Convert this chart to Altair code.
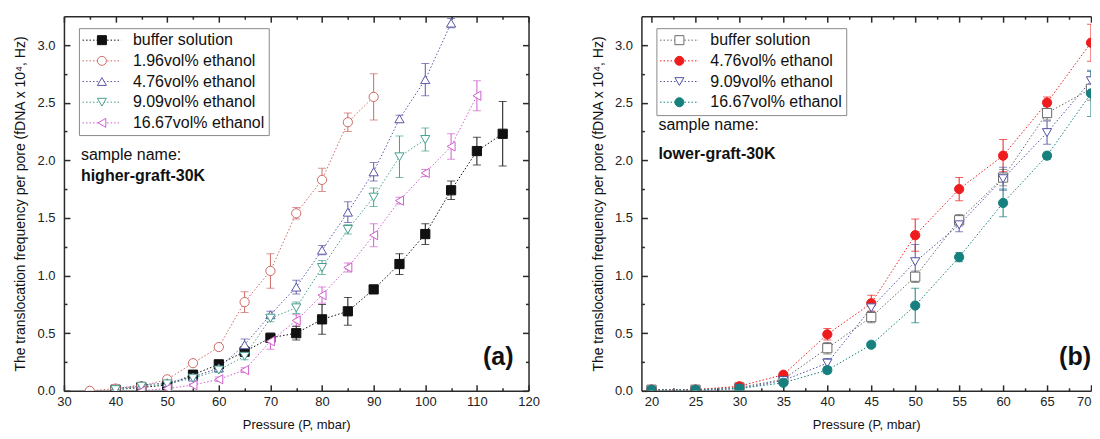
import altair as alt
import pandas as pd

FONT = "Liberation Sans"
AXC = "#2a2a2a"

# ---------------- panel (a): higher-graft-30K ----------------
A_NAMES = ["buffer solution", "1.96vol% ethanol", "4.76vol% ethanol",
           "9.09vol% ethanol", "16.67vol% ethanol"]
A_COLORS = ["#111111", "#cc6a66", "#5a58a8", "#45a08e", "#cf5fcf"]
A_FILLS = ["#111111", "#ffffff", "#ffffff", "#ffffff", "#ffffff"]
A_SHAPES = ["square", "circle", "triangle-up", "triangle-down", "triangle-left"]

A_BUF_P = [40, 45, 50, 55, 60, 65, 70, 75, 80, 85, 90, 95, 100, 105, 110, 115]
A_BUF_F = [0.01, 0.03, 0.05, 0.14, 0.23, 0.34, 0.46, 0.50, 0.62, 0.69, 0.88, 1.10, 1.36, 1.74, 2.08, 2.23]
A_BUF_E = [0.01, 0.01, 0.02, 0.02, 0.03, 0.04, 0.04, 0.06, 0.13, 0.12, 0.03, 0.09, 0.09, 0.08, 0.12, 0.28]

A_196_P = [35, 40, 45, 50, 55, 60, 65, 70, 75, 80, 85, 90]
A_196_F = [0.00, 0.02, 0.04, 0.10, 0.24, 0.38, 0.77, 1.04, 1.54, 1.83, 2.33, 2.55]
A_196_E = [0.01, 0.01, 0.01, 0.02, 0.02, 0.02, 0.09, 0.15, 0.05, 0.10, 0.08, 0.20]

A_476_P = [40, 45, 50, 55, 60, 65, 70, 75, 80, 85, 90, 95, 100, 105]
A_476_F = [0.02, 0.05, 0.07, 0.12, 0.20, 0.40, 0.66, 0.90, 1.22, 1.55, 1.90, 2.36, 2.70, 3.19]
A_476_E = [0.01, 0.01, 0.01, 0.02, 0.02, 0.05, 0.03, 0.06, 0.04, 0.09, 0.08, 0.03, 0.14, 0.04]

A_909_P = [40, 45, 50, 55, 60, 65, 70, 75, 80, 85, 90, 95, 100]
A_909_F = [0.01, 0.04, 0.06, 0.11, 0.18, 0.30, 0.63, 0.72, 1.07, 1.40, 1.68, 2.03, 2.18]
A_909_E = [0.01, 0.01, 0.01, 0.02, 0.02, 0.03, 0.03, 0.05, 0.06, 0.04, 0.08, 0.18, 0.10]

A_1667_P = [45, 50, 55, 60, 65, 70, 75, 80, 85, 90, 95, 100, 105, 110]
A_1667_F = [0.00, 0.02, 0.05, 0.10, 0.18, 0.43, 0.61, 0.83, 1.07, 1.35, 1.65, 1.89, 2.12, 2.56]
A_1667_E = [0.01, 0.01, 0.01, 0.02, 0.02, 0.07, 0.05, 0.07, 0.04, 0.10, 0.03, 0.03, 0.11, 0.13]

# ---------------- panel (b): lower-graft-30K ----------------
B_NAMES = ["buffer solution", "4.76vol% ethanol", "9.09vol% ethanol", "16.67vol% ethanol"]
B_COLORS = ["#6a6a6a", "#ee1c1c", "#5352a6", "#16807e"]
B_FILLS = ["#ffffff", "#ee1c1c", "#ffffff", "#16807e"]
B_SHAPES = ["square", "circle", "triangle-down", "circle"]

B_P = [20, 25, 30, 35, 40, 45, 50, 55, 60, 65, 70]
B_BUF_F = [0.01, 0.01, 0.03, 0.10, 0.37, 0.64, 0.99, 1.48, 1.85, 2.41, 2.62]
B_BUF_E = [0.01, 0.01, 0.01, 0.02, 0.05, 0.05, 0.05, 0.05, 0.07, 0.06, 0.10]
B_476_F = [0.01, 0.01, 0.04, 0.14, 0.49, 0.76, 1.35, 1.75, 2.04, 2.50, 3.02]
B_476_E = [0.01, 0.01, 0.01, 0.02, 0.05, 0.07, 0.14, 0.10, 0.14, 0.05, 0.16]
B_909_F = [0.00, 0.00, 0.02, 0.09, 0.24, 0.72, 1.12, 1.44, 1.84, 2.24, 2.69]
B_909_E = [0.01, 0.01, 0.01, 0.02, 0.04, 0.05, 0.15, 0.06, 0.10, 0.10, 0.08]
B_1667_F = [0.01, 0.01, 0.02, 0.07, 0.18, 0.40, 0.74, 1.16, 1.63, 2.04, 2.58]
B_1667_E = [0.01, 0.01, 0.01, 0.02, 0.03, 0.02, 0.15, 0.04, 0.12, 0.03, 0.20]

# ---------------- axes / text ----------------
A_XDOM = [30, 120]
A_XMAJ = [30, 40, 50, 60, 70, 80, 90, 100, 110, 120]
A_XMIN = [35, 45, 55, 65, 75, 85, 95, 105, 115]
B_XDOM = [18.85, 70]
B_XMAJ = [20, 25, 30, 35, 40, 45, 50, 55, 60, 65, 70]
B_XMIN = [22.5, 27.5, 32.5, 37.5, 42.5, 47.5, 52.5, 57.5, 62.5, 67.5]
YDOM = [0, 3.25]
YMAJ = [0.0, 0.5, 1.0, 1.5, 2.0, 2.5, 3.0]
YMIN = [0.25, 0.75, 1.25, 1.75, 2.25, 2.75]

X_TITLE = "Pressure (P, mbar)"
Y_TITLE = "The translocation frequency per pore (fDNA x 10\u2074, Hz)"
SAMPLE_LABEL = "sample name:"
A_SAMPLE = "higher-graft-30K"
B_SAMPLE = "lower-graft-30K"
A_TAG = "(a)"
B_TAG = "(b)"


def build_df(names, plist, flist, elist):
    rows = []
    for name, ps, fs, es in zip(names, plist, flist, elist):
        for p, f, e in zip(ps, fs, es):
            rows.append({"series": name, "P": p, "f": f, "lo": f - e, "hi": f + e})
    return pd.DataFrame(rows)


df_a = build_df(A_NAMES,
                [A_BUF_P, A_196_P, A_476_P, A_909_P, A_1667_P],
                [A_BUF_F, A_196_F, A_476_F, A_909_F, A_1667_F],
                [A_BUF_E, A_196_E, A_476_E, A_909_E, A_1667_E])
df_b = build_df(B_NAMES,
                [B_P] * 4,
                [B_BUF_F, B_476_F, B_909_F, B_1667_F],
                [B_BUF_E, B_476_E, B_909_E, B_1667_E])


def tick_axis(orient, values, size, show=True):
    return alt.Axis(orient=orient, values=values, tickSize=size, offset=-size,
                    labels=False, domain=False, grid=False, title=None,
                    ticks=show, tickColor=AXC, tickWidth=1.5)


def frame_axis(orient, show=True):
    return alt.Axis(orient=orient, labels=False, ticks=False, grid=False, title=None,
                    domain=show, domainColor=AXC, domainWidth=1.5)


def panel(df, names, colors, fills, shapes, xdom, xmaj, xmin, width,
          sample, sample_y, tag, right_frame, flush):
    xs = alt.Scale(domain=xdom, nice=False, zero=False)
    ys = alt.Scale(domain=YDOM, nice=False, zero=False)
    cs = alt.Scale(domain=names, range=colors)
    fs = alt.Scale(domain=names, range=fills)
    ss = alt.Scale(domain=names, range=shapes)

    x_lab = alt.Axis(orient="bottom", values=xmaj, ticks=False, grid=False,
                     domain=True, domainColor=AXC, domainWidth=1.5,
                     labelFont=FONT, labelFontSize=13, labelColor="#222", labelPadding=5,
                     labelFlush=flush, labelOverlap=False, format="d",
                     title=X_TITLE, titleFont=FONT, titleFontSize=13, titleFontWeight="normal",
                     titleColor="#111", titlePadding=10)
    y_lab = alt.Axis(orient="left", values=YMAJ, ticks=False, grid=False,
                     domain=True, domainColor=AXC, domainWidth=1.5,
                     labelFont=FONT, labelFontSize=13, labelColor="#222", labelPadding=9,
                     labelFlush=False, labelOverlap=False, format=".1f",
                     title=Y_TITLE, titleFont=FONT, titleFontSize=14, titleFontWeight="normal",
                     titleColor="#111", titlePadding=9)

    common_leg = dict(orient="none", legendX=15, legendY=12, title=None, padding=4,
                      labelFont=FONT, labelFontSize=16, rowPadding=4.7,
                      symbolSize=81, symbolStrokeWidth=1, symbolOffset=11, labelOffset=23)
    line_leg = alt.Legend(labelOpacity=0, symbolType="M-4.3,0L4.3,0",
                          symbolDash=[1.5, 2], **common_leg)
    pt_leg = alt.Legend(strokeColor="#8a8a8a", labelColor="#111", **common_leg)

    base = alt.Chart(df)
    lines = base.mark_line(strokeDash=[1.5, 2], strokeWidth=1, clip=True).encode(
        x=alt.X("P:Q", scale=xs, axis=x_lab),
        y=alt.Y("f:Q", scale=ys, axis=y_lab),
        color=alt.Color("series:N", scale=cs, legend=line_leg),
        detail="series:N",
        order="P:Q",
    )
    rules = base.mark_rule(strokeWidth=1, clip=True).encode(
        x=alt.X("P:Q", scale=xs, axis=tick_axis("bottom", xmaj, 6)),
        y=alt.Y("lo:Q", scale=ys, axis=tick_axis("left", YMAJ, 6)),
        y2="hi:Q",
        color=alt.Color("series:N", scale=cs, legend=None),
    )
    caps_lo = base.mark_tick(orient="horizontal", size=8, thickness=1, clip=True).encode(
        x=alt.X("P:Q", scale=xs, axis=tick_axis("bottom", xmin, 3)),
        y=alt.Y("lo:Q", scale=ys, axis=tick_axis("left", YMIN, 3)),
        color=alt.Color("series:N", scale=cs, legend=None),
    )
    caps_hi = base.mark_tick(orient="horizontal", size=8, thickness=1, clip=True).encode(
        x=alt.X("P:Q", scale=xs, axis=tick_axis("top", xmaj, 6)),
        y=alt.Y("hi:Q", scale=ys, axis=tick_axis("right", YMAJ, 6, right_frame)),
        color=alt.Color("series:N", scale=cs, legend=None),
    )
    points = base.mark_point(size=85, strokeWidth=1, opacity=1, clip=True).encode(
        x=alt.X("P:Q", scale=xs, axis=tick_axis("top", xmin, 3)),
        y=alt.Y("f:Q", scale=ys, axis=tick_axis("right", YMIN, 3, right_frame)),
        color=alt.Color("series:N", scale=cs, legend=pt_leg),
        fill=alt.Fill("series:N", scale=fs, legend=pt_leg),
        shape=alt.Shape("series:N", scale=ss, legend=pt_leg),
    )
    frame = base.mark_point(opacity=0, clip=True).encode(
        x=alt.X("P:Q", scale=xs, axis=frame_axis("top")),
        y=alt.Y("f:Q", scale=ys, axis=frame_axis("right", right_frame)),
    )
    one = alt.Data(values=[{}])
    t1 = alt.Chart(one).mark_text(text=SAMPLE_LABEL, align="left", baseline="middle",
                                  font=FONT, fontSize=16, color="#111").encode(
        x=alt.value(17), y=alt.value(sample_y[0]))
    t2 = alt.Chart(one).mark_text(text=sample, align="left", baseline="middle",
                                  font=FONT, fontSize=16, fontWeight="bold", color="#111").encode(
        x=alt.value(17), y=alt.value(sample_y[1]))
    t3 = alt.Chart(one).mark_text(text=tag, align="right", baseline="middle",
                                  font=FONT, fontSize=25, fontWeight="bold", color="#111").encode(
        x=alt.value(450), y=alt.value(341))

    return alt.layer(lines, rules, caps_lo, caps_hi, points, frame, t1, t2, t3).resolve_scale(
        color="independent", fill="independent", shape="independent"
    ).resolve_axis(x="independent", y="independent").properties(width=width, height=375)


pa = panel(df_a, A_NAMES, A_COLORS, A_FILLS, A_SHAPES, A_XDOM, A_XMAJ, A_XMIN, 465,
           A_SAMPLE, (139, 160), A_TAG, True, False)
pb = panel(df_b, B_NAMES, B_COLORS, B_FILLS, B_SHAPES, B_XDOM, B_XMAJ, B_XMIN, 450,
           B_SAMPLE, (109, 138), B_TAG, False, True)

chart = alt.hconcat(pa, pb, spacing=51).resolve_scale(
    x="independent", y="independent", color="independent",
    fill="independent", shape="independent"
).properties(
    padding={"left": 5, "top": 7, "right": 0, "bottom": 0},
    background="white",
).configure_view(stroke=None)

chart.save("out.html", embed_options={"renderer": "svg", "actions": False})
